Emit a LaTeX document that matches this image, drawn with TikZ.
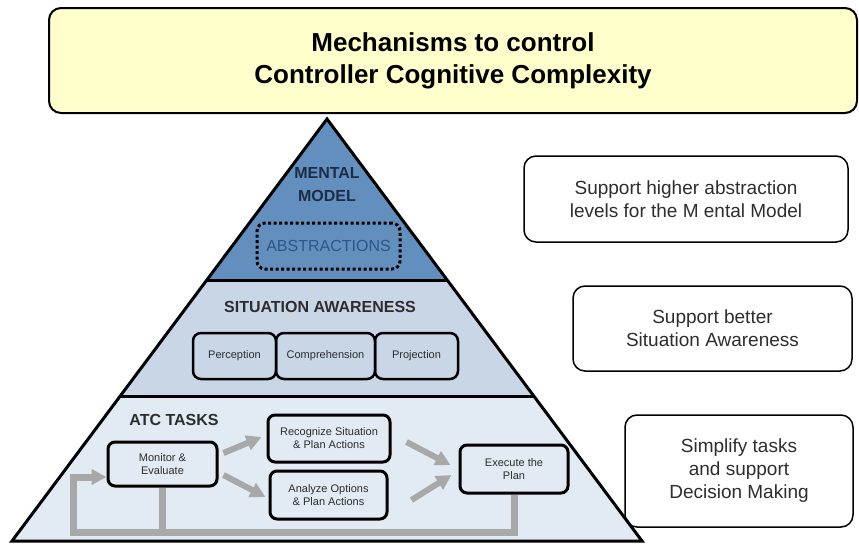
\documentclass[tikz,border=0pt]{standalone}
\usepackage{fontspec}
\setmainfont{Liberation Sans}
\definecolor{titlefill}{RGB}{255,255,204}
\definecolor{mmfill}{RGB}{98,143,190}
\definecolor{safill}{RGB}{200,214,230}
\definecolor{atcfill}{RGB}{226,234,243}
\definecolor{flowgray}{RGB}{168,168,168}
\definecolor{inktext}{RGB}{45,45,45}
\definecolor{absblue}{RGB}{50,85,130}
\tikzstyle{goal box} = [draw=black, line width=1.5pt, rounded corners=12pt, align=center, text=inktext, font=\fontsize{19}{23}\selectfont]
\usetikzlibrary{arrows.meta}
\usetikzlibrary{positioning}

\begin{document}
\begin{tikzpicture}[x=1pt, y=-1pt,
                      band title/.style={font=\fontsize{16}{23}\selectfont\bfseries, text=inktext, align=center},
                      sa box/.style={draw=black, line width=2.5pt, rounded corners=8pt, outer sep=0pt,
                                     minimum height=46pt, font=\fontsize{11}{13}\selectfont, text=inktext},
                      task box/.style={draw=black, line width=3pt, rounded corners=7pt, align=center,
                                       font=\fontsize{11}{13}\selectfont, text=inktext},
                      flow/.style={draw=flowgray, line width=6pt, -{Triangle[length=15pt,width=15pt]}}]
  \useasboundingbox (0,0) rectangle (859,544);

        % title
        \node[draw=black, line width=2pt, fill=titlefill, rounded corners=12pt,
              minimum width=808pt, minimum height=105pt, align=center,
              font=\fontsize{26}{32}\selectfont\bfseries] (title) at (453,60.5)
              {Mechanisms to control\\Controller Cognitive Complexity};

        % pyramid
        \coordinate (apex) at (327,119);
        \coordinate (l1) at (207,280);
        \coordinate (r1) at (447,280);
        \coordinate (l2) at (120,396);
        \coordinate (r2) at (534,396);
        \coordinate (bl) at (12,541);
        \coordinate (br) at (642,541);
        \fill[mmfill] (apex) -- (r1) -- (l1) -- cycle;
        \fill[safill] (l1) -- (r1) -- (r2) -- (l2) -- cycle;
        \fill[atcfill] (l2) -- (r2) -- (br) -- (bl) -- cycle;
        \draw[line width=3pt] (apex) -- (br) -- (bl) -- cycle;
        \draw[line width=3pt] (l1) -- (r1) (l2) -- (r2);

        % mental model
        \node[band title, text={rgb,255:red,30;green,45;blue,70}] (mm) at (327,185) {MENTAL\\MODEL};
        \node[draw=black, line width=3pt, dash pattern=on 3pt off 2.5pt, rounded corners=8pt,
              minimum width=143pt, minimum height=46pt, text=absblue,
              font=\fontsize{16}{18}\selectfont] (abs) at (328.5,246) {ABSTRACTIONS};

        % situation awareness
        \node[band title] (sa) at (320,307) {SITUATION AWARENESS};
        \node[sa box, minimum width=83pt] (perc) at (234.5,356) {Perception};
        \node[sa box, minimum width=99pt, right=0pt of perc] (comp) {Comprehension};
        \node[sa box, minimum width=83pt, right=0pt of comp] (proj) {Projection};

        % atc tasks
        \node[band title] (atc) at (174,420) {ATC TASKS};
        \node[task box, minimum width=109pt, minimum height=44pt] (mon) at (162.5,464) {Monitor \&\\Evaluate};
        \node[task box, minimum width=122pt, minimum height=47pt] (rec) at (329,438.5) {Recognize Situation\\\& Plan Actions};
        \node[task box, minimum width=117pt, minimum height=48pt] (ana) at (328.5,495) {Analyze Options\\\& Plan Actions};
        \node[task box, minimum width=108pt, minimum height=48pt] (exe) at (514,469) {Execute the\\Plan};

        \draw[flow] ([xshift=5pt,yshift=11pt]mon.east) -- ([xshift=-5pt,yshift=1.5pt]rec.west);
        \draw[flow] ([xshift=5pt,yshift=-11pt]mon.east) -- ([xshift=-3pt,yshift=-2pt]ana.west);
        \draw[flow] ([xshift=15pt,yshift=-3.5pt]rec.east) -- ([xshift=-8pt,yshift=4pt]exe.west);
        \draw[flow] ([xshift=23pt,yshift=-5pt]ana.east) -- ([xshift=-7pt,yshift=-6pt]exe.west);

        \coordinate (loop) at (73,532);
        \draw[flow, line width=7pt, line join=miter] (exe.south) |- (loop) |- ([yshift=-13pt]mon.west);
        \draw[draw=flowgray, line width=7pt] (mon.south) -- (mon.south |- loop);

        % goals
        \node[goal box, minimum width=324pt, minimum height=86pt] (g1) at (686,199)
              {Support higher abstraction\\levels for the M ental Model};
        \node[goal box, minimum width=279pt, minimum height=85pt] (g2) at (712.5,328.5)
              {Support better\\Situation Awareness};
        \node[goal box, minimum width=228pt, minimum height=112pt] (g3) at (739,471)
              {Simplify tasks\\and support\\Decision Making};
    \end{tikzpicture}
\end{document}
